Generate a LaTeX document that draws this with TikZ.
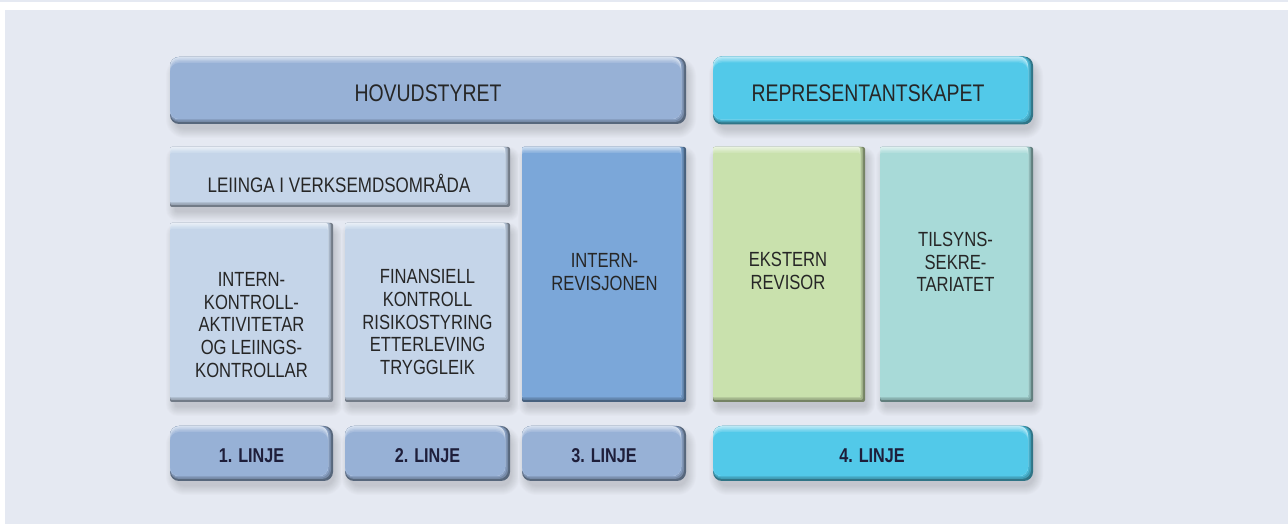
\documentclass[tikz,border=0pt]{standalone}
\usepackage{fontspec}
\setmainfont{Liberation Sans}[FakeStretch=0.81]
\definecolor{bg}{HTML}{E5E9F2}
\definecolor{cHov}{HTML}{97B1D6}
\definecolor{cLei}{HTML}{C5D5E9}
\definecolor{cIrev}{HTML}{7BA7D9}
\definecolor{cCyan}{HTML}{52C9E9}
\definecolor{cGreen}{HTML}{C9E1AD}
\definecolor{cTeal}{HTML}{A8DAD8}
\definecolor{txt}{HTML}{262626}
\definecolor{navy}{HTML}{1E1E3A}
\tikzset{
  boxanchor/.style={draw=none, inner sep=0pt, minimum width=#1},
  bigtxt/.style={text=txt, font=\fontsize{24}{26}\selectfont},
  midtxt/.style={text=txt, font=\fontsize{21}{23}\selectfont},
  boxtxt/.style={text=txt, align=center, font=\fontsize{20.5}{22.7}\selectfont},
  linjetxt/.style={text=navy, font=\bfseries\fontsize{20}{22}\selectfont},
}
\def\boxlist{hov/428/433.5/516/67/9/cHov, rep/873/433.5/320/68/9/cCyan,
 lei/340/347/340/60/2/cLei, ik/251.5/211.5/163/179/2/cLei, fin/427.5/211.5/165/179/2/cLei,
 irev/604/249.5/164/255/2/cIrev, eks/789/249.5/152/255/2/cGreen, til/956.5/249.5/153/255/2/cTeal,
 l1/251.5/70.5/163/55/9/cHov, l2/427.5/70.5/165/55/9/cHov, l3/604/70.5/164/55/9/cHov, l4/873/70.5/320/55/9/cCyan}
\begin{document}
\begin{tikzpicture}[x=1pt,y=1pt]
\useasboundingbox (0,0) rectangle (1288,524);
\fill[white] (0,0) rectangle (1288,524);
\fill[bg] (0,522) rectangle (1288,524);
\fill[bg] (5,0) rectangle (1288,514);
% soft shadows
\foreach \n/\x/\y/\w/\h/\r/\c in \boxlist {
  \foreach \k/\p in {7/98.5,6/97,5/95.5,4/94,3/92.5,2/91,1/89.5,0/88,-1/86.5,-2/85} {
    \fill[bg!\p!black, rounded corners=\r pt+\k pt+3pt]
      (\x-\w/2+3-\k, \y-\h/2-7-\k) rectangle (\x+\w/2+3+\k, \y+\h/2-7+\k);
  }
}
% glossy bodies
\foreach \n/\x/\y/\w/\h/\r/\c in \boxlist {
  \fill[\c!58!black, rounded corners=\r pt] (\x-\w/2, \y-\h/2) rectangle (\x+\w/2, \y+\h/2);
  \fill[\c!78!black, rounded corners=\r pt] (\x-\w/2, \y-\h/2+2) rectangle (\x+\w/2-2, \y+\h/2);
  \fill[\c!90!black, rounded corners=\r pt] (\x-\w/2, \y-\h/2+3.5) rectangle (\x+\w/2-3.5, \y+\h/2);
  \foreach \j/\m in {0/40,1/55,2/70,3/84,4/100} {
    \fill[\c!\m!white, rounded corners=\r pt] (\x-\w/2, \y-\h/2+5) rectangle (\x+\w/2-5, \y+\h/2-1.5*\j);
  }
  \node[boxanchor=\w pt, minimum height=\h pt] (\n) at (\x,\y) {};
}
% texts
\node[bigtxt] (hovt) at (hov.center) [yshift=-3pt] {HOVUDSTYRET};
\node[bigtxt] (rept) at ([xshift=-5pt,yshift=-3pt]rep.center) {REPRESENTANTSKAPET};
\node[midtxt] (leit) at ([xshift=-1pt,yshift=-6pt]lei.center) {LEIINGA I VERKSEMDSOMRÅDA};
\node[boxtxt] (ikt) at ([yshift=-12.5pt]ik.center) {INTERN-\\KONTROLL-\\AKTIVITETAR\\OG LEIINGS-\\KONTROLLAR};
\node[boxtxt] (fint) at ([yshift=-9.5pt]fin.center) {FINANSIELL\\KONTROLL\\RISIKOSTYRING\\ETTERLEVING\\TRYGGLEIK};
\node[boxtxt] (irevt) at ([xshift=0.5pt,yshift=2.5pt]irev.center) {INTERN-\\REVISJONEN};
\node[boxtxt] (ekst) at ([xshift=-1pt,yshift=3.5pt]eks.center) {EKSTERN\\REVISOR};
\node[boxtxt] (tilt) at ([xshift=-1pt,yshift=12.5pt]til.center) {TILSYNS-\\SEKRE-\\TARIATET};
\node[linjetxt] (l1t) at ([yshift=-2.5pt]l1.center) {1. LINJE};
\node[linjetxt] (l2t) at ([yshift=-2.5pt]l2.center) {2. LINJE};
\node[linjetxt] (l3t) at ([yshift=-2.5pt]l3.center) {3. LINJE};
\node[linjetxt] (l4t) at ([xshift=-1pt,yshift=-2.5pt]l4.center) {4. LINJE};
\end{tikzpicture}
\end{document}
